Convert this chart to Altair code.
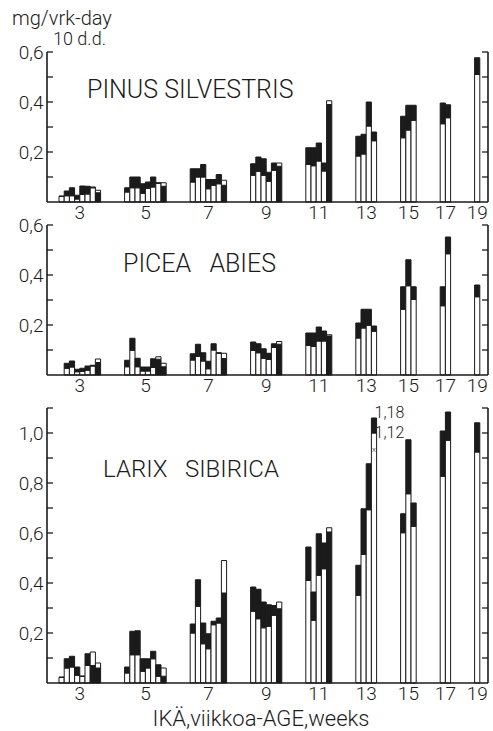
import altair as alt
import pandas as pd

# ---------------- data ----------------
ages = [3, 5, 7, 9, 11, 13, 15, 17, 19]
bars_per_age = [8, 8, 7, 6, 5, 4, 3, 2, 1]

# each bar: boundary between the two parts, top of bar, colour of the lower part (w=white, b=black)
pinus_lower = [0.023, 0.025, 0.025, 0.012, 0.030, 0.032, 0.057, 0.037,
               0.040, 0.057, 0.057, 0.035, 0.055, 0.060, 0.075, 0.063,
               0.080, 0.100, 0.100, 0.053, 0.067, 0.073, 0.067,
               0.107, 0.123, 0.107, 0.083, 0.127, 0.143,
               0.150, 0.145, 0.164, 0.124, 0.390,
               0.184, 0.192, 0.304, 0.245,
               0.257, 0.288, 0.327,
               0.313, 0.337,
               0.510]
pinus_upper = [0.023, 0.044, 0.057, 0.027, 0.064, 0.063, 0.060, 0.047,
               0.057, 0.100, 0.100, 0.073, 0.080, 0.100, 0.077, 0.077,
               0.133, 0.133, 0.150, 0.090, 0.090, 0.110, 0.087,
               0.153, 0.180, 0.173, 0.119, 0.156, 0.156,
               0.217, 0.217, 0.236, 0.156, 0.405,
               0.263, 0.271, 0.400, 0.280,
               0.343, 0.387, 0.387,
               0.396, 0.389,
               0.577]
pinus_bottom = "wwwwwwwb" "wwwwwwwb" "wwwwwwb" "wwwwwb" "wwwwb" "wwww" "www" "ww" "w"

picea_lower = [0.000, 0.027, 0.032, 0.013, 0.015, 0.019, 0.036, 0.050,
               0.033, 0.099, 0.033, 0.016, 0.016, 0.030, 0.063, 0.033,
               0.060, 0.075, 0.056, 0.025, 0.100, 0.087, 0.066,
               0.098, 0.089, 0.067, 0.062, 0.110, 0.123,
               0.118, 0.114, 0.136, 0.136, 0.156,
               0.148, 0.188, 0.199, 0.175,
               0.263, 0.357, 0.302,
               0.277, 0.485,
               0.313]
picea_upper = [0.000, 0.047, 0.056, 0.023, 0.027, 0.036, 0.039, 0.064,
               0.059, 0.147, 0.067, 0.032, 0.032, 0.065, 0.073, 0.047,
               0.085, 0.123, 0.089, 0.055, 0.125, 0.089, 0.087,
               0.132, 0.125, 0.105, 0.087, 0.125, 0.134,
               0.168, 0.168, 0.192, 0.176, 0.161,
               0.208, 0.263, 0.263, 0.196,
               0.353, 0.461, 0.353,
               0.353, 0.552,
               0.360]
picea_bottom = "wwwwwwwb" "wwwwwwbb" "wwwwwwb" "wwwwwb" "wwwwb" "wwww" "www" "ww" "w"

larix_lower = [0.023, 0.060, 0.064, 0.031, 0.027, 0.070, 0.070, 0.060,
               0.040, 0.113, 0.113, 0.047, 0.060, 0.097, 0.027, 0.027,
               0.200, 0.307, 0.157, 0.137, 0.233, 0.240, 0.360,
               0.287, 0.257, 0.221, 0.227, 0.271, 0.297,
               0.410, 0.251, 0.431, 0.457, 0.604,
               0.351, 0.515, 0.693, 1.120,
               0.601, 0.757, 0.627,
               0.827, 0.971,
               0.924]
larix_upper = [0.023, 0.097, 0.107, 0.064, 0.027, 0.117, 0.124, 0.080,
               0.064, 0.207, 0.209, 0.097, 0.097, 0.127, 0.073, 0.060,
               0.236, 0.413, 0.240, 0.197, 0.247, 0.260, 0.490,
               0.384, 0.375, 0.324, 0.313, 0.310, 0.324,
               0.544, 0.364, 0.597, 0.560, 0.621,
               0.471, 0.697, 0.877, 1.180,
               0.677, 0.973, 0.720,
               1.008, 1.084,
               1.041]
larix_bottom = "wwwwwwbb" "wwwwwwwb" "wwwwwwb" "wwwwwb" "wwwwb" "wwww" "www" "ww" "w"

x_title = "IKÄ,viikkoa-AGE,weeks"
unit_lines = ["mg/vrk-day", "10 d.d."]
NB = "\u00a0"
titles = ["PINUS SILVESTRIS", "PICEA" + NB * 3 + "ABIES", "LARIX" + NB * 3 + "SIBIRICA"]

# ---------------- styling / layout ----------------
INK = "#1b1b1b"
FONT = "Roboto"
W = 441
GAP = 24 / 5.2          # gap between age groups, in bar widths
X_LEFT = -12 / 5.2      # plot starts a little left of the first bar
PX_PER_SLOT = 5.2
X_RIGHT = X_LEFT + W / PX_PER_SLOT
BREAK = 0.12            # broken-bar compression for values above axis

xscale = alt.Scale(domain=[X_LEFT, X_RIGHT], nice=False, zero=False)


def build_positions():
    pos = 0.0
    x0s, x1s, centers = [], [], []
    for n in bars_per_age:
        start = pos
        for _ in range(n):
            x0s.append(pos)
            x1s.append(pos + 1)
            pos += 1
        centers.append((start + pos) / 2)
        pos += GAP
    return x0s, x1s, centers


X0, X1, CENTERS = build_positions()


def panel(title, lower, upper, bottom, axis_max, dom_max, height, title_xy,
          title_size, label_vals, x_title_text=None, annot=False):
    yscale = alt.Scale(domain=[0, dom_max], nice=False, zero=True)
    yaxis = alt.Axis(values=label_vals, ticks=False, tickSize=0, domain=False,
                     grid=False, title=None, labelFontSize=19, labelFont=FONT,
                     labelFontWeight=300, labelColor=INK, labelPadding=4,
                     labelExpr="replace(format(datum.value, '.1f'), '.', ',')")

    def Y(f):
        return alt.Y(f, scale=yscale, axis=yaxis)

    rows = []
    for i in range(len(lower)):
        lo, up = lower[i], upper[i]
        if up > axis_max:
            lo, up = lo - BREAK, up - BREAK
        if up <= 0:
            continue
        other = "b" if bottom[i] == "w" else "w"
        rows.append(dict(x0=X0[i], x1=X1[i], y0=0.0, y1=lo, fill=bottom[i]))
        rows.append(dict(x0=X0[i], x1=X1[i], y0=lo, y1=up, fill=other))
    df = pd.DataFrame(rows)

    bars = alt.Chart(df).mark_rect(stroke=INK, strokeWidth=1).encode(
        x=alt.X("x0:Q", scale=xscale, axis=None),
        x2="x1:Q",
        y=Y("y0:Q"),
        y2="y1:Q",
        fill=alt.Fill("fill:N", scale=alt.Scale(domain=["w", "b"], range=["white", INK]),
                      legend=None),
    )

    frame_df = pd.DataFrame({"y0": [0.0], "y1": [axis_max]})
    left_line = alt.Chart(frame_df).mark_rule(color=INK, strokeWidth=1.6).encode(
        x=alt.value(0), y=Y("y0:Q"), y2="y1:Q")
    right_line = alt.Chart(frame_df).mark_rule(color=INK, strokeWidth=1.6).encode(
        x=alt.value(W), y=Y("y0:Q"), y2="y1:Q")
    base_line = alt.Chart(frame_df).mark_rule(color=INK, strokeWidth=1.6).encode(
        x=alt.value(0), x2=alt.value(W), y=Y("y0:Q"))

    nt = int(round(axis_max * 10))
    tick_df = pd.DataFrame({"y0": [k / 10 for k in range(1, nt + 1)]})
    lt = alt.Chart(tick_df).mark_rule(color=INK, strokeWidth=1.3).encode(
        x=alt.value(0), x2=alt.value(6), y=Y("y0:Q"))
    rt = alt.Chart(tick_df).mark_rule(color=INK, strokeWidth=1.3).encode(
        x=alt.value(W - 6), x2=alt.value(W), y=Y("y0:Q"))

    lab_df = pd.DataFrame({"xc": CENTERS, "age": [str(a) for a in ages]})
    xlabels = alt.Chart(lab_df).mark_text(
        font=FONT, fontWeight=300, fontSize=19, color=INK, baseline="top", align="center"
    ).encode(x=alt.X("xc:Q", scale=xscale, axis=None), y=alt.value(height + 2), text="age:N")

    ttl = alt.Chart(pd.DataFrame({"t": [title]})).mark_text(
        font=FONT, fontWeight=300, fontSize=title_size, color=INK, align="left",
        baseline="alphabetic"
    ).encode(x=alt.value(title_xy[0]), y=alt.value(title_xy[1]), text="t:N")

    layers = [bars, left_line, right_line, base_line, lt, rt, xlabels, ttl]

    if annot:
        for i in range(len(lower)):
            if upper[i] > axis_max:
                a_df = pd.DataFrame({
                    "x": [X1[i], X1[i], (X0[i] + X1[i]) / 2],
                    "y0": [upper[i] - BREAK, lower[i] - BREAK - 0.02,
                           lower[i] - BREAK - 0.075],
                    "t": [f"{upper[i]:.2f}".replace(".", ","),
                          f"{lower[i]:.2f}".replace(".", ","), "x"],
                    "fs": [16, 16, 8],
                })
                layers.append(alt.Chart(a_df).mark_text(
                    font=FONT, fontWeight=300, color=INK, align="left",
                    baseline="alphabetic", dx=-2
                ).encode(x=alt.X("x:Q", scale=xscale, axis=None), y=Y("y0:Q"),
                         text="t:N", size=alt.Size("fs:Q", scale=None, legend=None)))

    if x_title_text:
        layers.append(alt.Chart(pd.DataFrame({"t": [x_title_text]})).mark_text(
            font=FONT, fontWeight=300, fontSize=22, color=INK, align="center",
            baseline="alphabetic"
        ).encode(x=alt.value(214), y=alt.value(height + 43), text="t:N"))

    return alt.layer(*layers).properties(width=W, height=height)


pinus = panel(titles[0], pinus_lower, pinus_upper, pinus_bottom,
              0.6, 0.6, 150, (40, 46), 25, [0.2, 0.4, 0.6])
unit_df = pd.DataFrame({"t": unit_lines, "x": [-35, 6], "y": [-27, -7], "fs": [20, 18]})
units = alt.Chart(unit_df).mark_text(
    font=FONT, fontWeight=300, color=INK, align="left", baseline="alphabetic"
).encode(x=alt.X("x:Q", scale=None, axis=None), y=alt.Y("y:Q", scale=None, axis=None),
         text="t:N", size=alt.Size("fs:Q", scale=None, legend=None))
pinus = alt.layer(pinus, units)

picea = panel(titles[1], picea_lower, picea_upper, picea_bottom,
              0.6, 0.6, 150, (76, 47), 25, [0.2, 0.4, 0.6])
larix = panel(titles[2], larix_lower, larix_upper, larix_bottom,
              1.1, 1.14, 285, (56, 79), 24, [0.2, 0.4, 0.6, 0.8, 1.0],
              x_title_text=x_title, annot=True)

chart = alt.vconcat(pinus, picea, larix, spacing=23, bounds="flush").properties(
    padding={"top": 9, "left": 12, "right": 2, "bottom": 2},
    background="white",
).configure_view(stroke=None)

chart.save("out.html", embed_options={"renderer": "svg", "actions": False})
